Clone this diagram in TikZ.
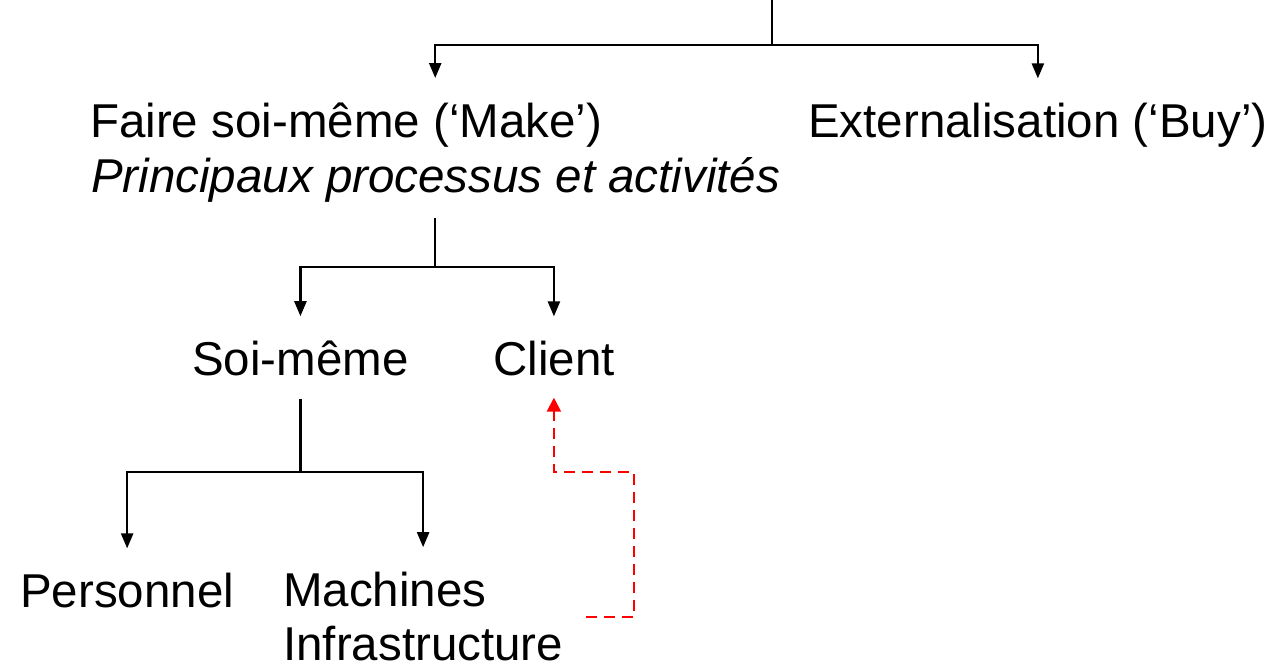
\documentclass[tikz,border=0pt]{standalone}
\usepackage{fontspec}
\setmainfont{Liberation Sans}
\usetikzlibrary{arrows.meta,fit}
\begin{document}
\begin{tikzpicture}[x=1pt,y=-1pt,
  lbl/.style={anchor=base west,inner sep=0pt,font=\fontsize{47.5}{57}\selectfont},
  grp/.style={inner sep=0pt},
  link/.style={line width=2.4pt,black},
  arr/.style={link,-{Triangle[width=12pt,length=15pt]},shorten >=24pt},
  redarr/.style={line width=2.2pt,red,dash pattern=on 11pt off 7pt,-{Triangle[width=14pt,length=14pt]},shorten >=22pt}]
\useasboundingbox (0,0) rectangle (1264,665);
% texts
\node[lbl] (l1) at (90,137) {Faire soi-même (‘Make’)};
\node[lbl] (l2) at (91,192) {\itshape Principaux processus et activités};
\node[grp,fit=(l1)(l2)] (faire) {};
\node[lbl] (ext) at (808,137) {Externalisation (‘Buy’)};
\node[lbl] (soi) at (192,375) {Soi-même};
\node[lbl] (client) at (493,375) {Client};
\node[lbl] (pers) at (20,607) {Personnel};
\node[lbl] (m1) at (283,606) {Machines};
\node[lbl] (m2) at (283,660) {Infrastructure};
\node[grp,fit=(m1)(m2)] (mach) {};
% junctions
\coordinate (top) at (772,0);
\coordinate (j1) at (772,45);
\coordinate (j2) at (faire.south |- 0,267);
\coordinate (j3) at (soi.south |- 0,472);
\coordinate (r0) at (586,617);
\coordinate (r1) at (634,617);
\coordinate (r2) at (634,472);
% connectors
\draw[link] (top) -- (j1);
\draw[arr] (j1) -| (faire);
\draw[arr] (j1) -| (ext);
\draw[link,shorten <=16pt] (faire.south) -- (j2);
\draw[arr] (j2) -| (soi);
\draw[arr] (j2) -| (client);
\draw[link,shorten <=23pt] (soi.south) -- (j3);
\draw[arr] (j3) -| (pers);
\draw[arr] (j3) -| (mach);
\draw[redarr] (r0) -- (r1) -- (r2) -| (client);
\end{tikzpicture}
\end{document}
